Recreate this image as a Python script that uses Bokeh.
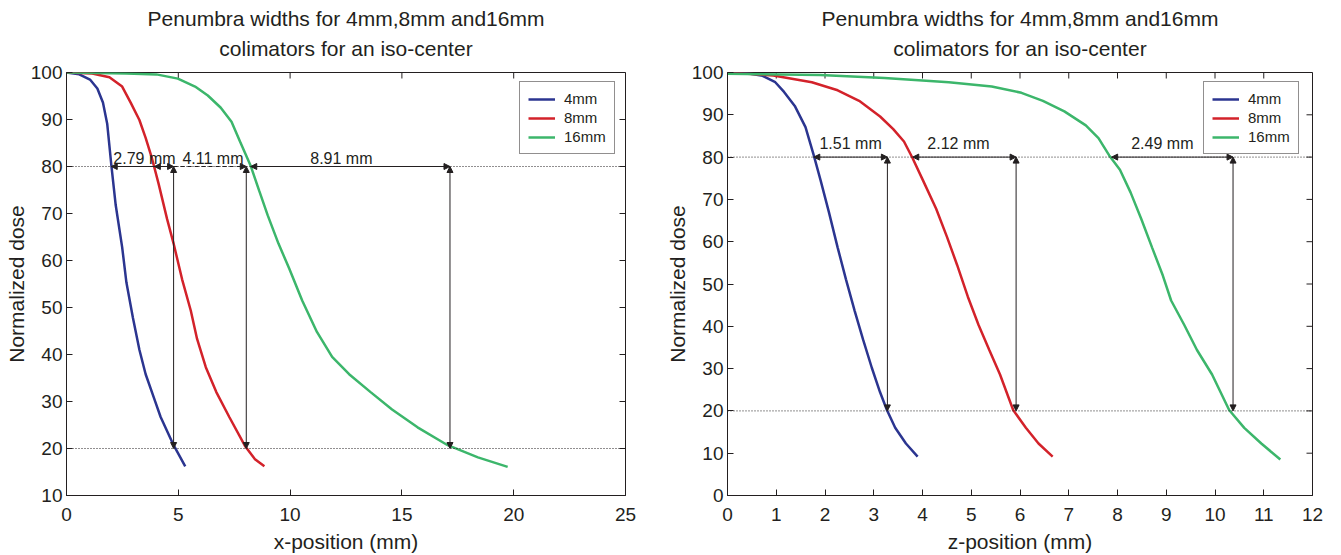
from bokeh.plotting import figure
from bokeh.layouts import row
from bokeh.models import Arrow, NormalHead, Span, Legend, LegendItem, Range1d, FixedTicker, Title
from bokeh.embed import file_html
from bokeh.resources import INLINE
from bokeh.core.properties import value

FONT = "Liberation Sans"
TITLE_LINES = ["Penumbra widths for 4mm,8mm and16mm", "colimators for an iso-center"]
SERIES = ["4mm", "8mm", "16mm"]
COLORS = ["#2b3590", "#d3222a", "#3cb66b"]
INK = "#231f20"

# ---- left panel (x-position) ----
L_blue_x = [0, 0.57, 1.05, 1.38, 1.63, 1.82, 2.01, 2.2, 2.49, 2.68, 2.97, 3.26, 3.54, 3.93, 4.21, 4.79, 5.31]
L_blue_y = [100, 99.6, 98.5, 96.6, 93.6, 89.1, 80.1, 71.8, 62.8, 55.3, 47.8, 41, 35.8, 30.5, 26.7, 20.7, 16.2]
L_red_x = [0, 1.15, 1.92, 2.49, 2.87, 3.26, 3.54, 3.83, 4.12, 4.5, 4.79, 5.17, 5.56, 5.84, 6.23, 6.7, 7.28, 8.0, 8.43, 8.85]
L_red_y = [100, 99.8, 99, 97, 93.6, 89.9, 86.1, 81.6, 76.3, 68.8, 63.6, 56, 49.3, 43.3, 37.3, 32, 26.7, 20.4, 17.7, 16.2]
L_green_x = [0, 2.68, 4.02, 4.98, 5.75, 6.32, 6.9, 7.38, 7.76, 8.24, 8.62, 9.0, 9.48, 9.96, 10.54, 11.2,
             11.88, 12.64, 13.6, 14.56, 15.7, 17.05, 18.4, 19.73]
L_green_y = [100, 99.8, 99.6, 98.7, 97, 95.1, 92.5, 89.5, 85.3, 80.1, 74.8, 69.6, 63.6, 58.3, 51.5, 44.8,
             39.5, 35.8, 32, 28.3, 24.5, 20.7, 18.1, 16.1]
L_x80 = [2.0, 3.93, 8.24]
L_width = [2.79, 4.11, 8.91]
L_labels = ["2.79 mm", "4.11 mm", "8.91 mm"]
L_xticks = [0, 5, 10, 15, 20, 25]
L_yticks = [10, 20, 30, 40, 50, 60, 70, 80, 90, 100]

# ---- right panel (z-position) ----
R_blue_x = [0, 0.41, 0.72, 0.98, 1.16, 1.38, 1.6, 1.77, 1.91, 2.08, 2.26, 2.43, 2.61, 2.78, 2.96, 3.13,
            3.27, 3.44, 3.66, 3.9]
R_blue_y = [100, 99.8, 99.2, 97.7, 95.4, 92.1, 87.1, 80.4, 74.5, 67, 58.6, 51.1, 43.6, 36.9, 30.2, 24.4,
            20.2, 16, 12.3, 9.2]
R_red_x = [0, 0.94, 1.73, 2.26, 2.7, 3.13, 3.4, 3.62, 3.79, 4.01, 4.28, 4.5, 4.71, 4.93, 5.15, 5.37, 5.59,
           5.86, 6.12, 6.38, 6.67]
R_red_y = [100, 99.3, 97.7, 95.8, 93.3, 89.6, 86.6, 83.7, 79.9, 74.5, 67.8, 61.2, 54.5, 47, 40.3, 34.4, 28.6,
           20.2, 16, 12.3, 9.2]
R_green_x = [0, 1.9, 3.22, 4.54, 5.42, 6.03, 6.47, 6.91, 7.35, 7.61, 7.83, 8.05, 8.27, 8.49, 8.71, 8.93,
             9.1, 9.37, 9.63, 9.94, 10.29, 10.6, 10.95, 11.34]
R_green_y = [99.7, 99.4, 98.7, 97.7, 96.7, 95.2, 93.3, 90.8, 87.5, 84.5, 80.4, 77, 71.6, 65.3, 58.6, 52,
             46.1, 40.3, 34.4, 28.6, 20.2, 16, 12.3, 8.5]
R_x80 = [1.77, 3.8, 7.88]
R_width = [1.51, 2.12, 2.49]
R_labels = ["1.51 mm", "2.12 mm", "2.49 mm"]
R_xticks = list(range(0, 13))
R_yticks = [0, 10, 20, 30, 40, 50, 60, 70, 80, 90, 100]

LEVELS = [80, 20]


def head():
    return NormalHead(size=6, fill_color=INK, line_color=INK, line_width=1)


def make(fw, bl, br, xr, yr, xticks, yticks, xlabel, curves, x80, widths, labels, dashed_idx,
         legend_loc, lab_off, lab_dx):
    p = figure(frame_width=fw, frame_height=423, x_range=Range1d(*xr), y_range=Range1d(*yr),
               output_backend="svg", toolbar_location=None, title=None,
               min_border_left=bl, min_border_right=br, min_border_top=72, min_border_bottom=59)
    p.grid.visible = False
    p.outline_line_color = INK
    for line, so in zip(reversed(TITLE_LINES), (26, -16)):
        t = Title(text=line, align="center", text_font=FONT, text_font_size="21px",
                  text_font_style="normal", text_color=INK, standoff=so, offset=0)
        p.add_layout(t, "above")

    for ax, ticks in ((p.xaxis[0], xticks), (p.yaxis[0], yticks)):
        ax.ticker = FixedTicker(ticks=ticks)
        ax.major_tick_in = 6
        ax.major_tick_out = 0
        ax.minor_tick_line_color = None
        ax.major_label_text_font = FONT
        ax.major_label_text_font_size = "19px"
        ax.major_label_text_color = INK
        ax.axis_label_text_font = FONT
        ax.axis_label_text_font_size = "21px"
        ax.axis_label_text_font_style = "normal"
        ax.axis_label_text_color = INK
        ax.axis_line_color = INK
        ax.major_tick_line_color = INK
    p.xaxis[0].axis_label = xlabel
    p.yaxis[0].axis_label = "Normalized dose"
    p.xaxis[0].major_label_standoff = 12
    p.xaxis[0].axis_label_standoff = 6
    p.yaxis[0].major_label_standoff = 4
    p.yaxis[0].axis_label_standoff = 0

    # inward ticks on the top and right edges of the box
    p.ray(x=xticks, y=[yr[1]] * len(xticks), length=6, length_units="screen",
          angle=-90, angle_units="deg", line_color=INK, line_width=1)
    p.ray(x=[xr[1]] * len(yticks), y=yticks, length=6, length_units="screen",
          angle=180, angle_units="deg", line_color=INK, line_width=1)

    for lv in LEVELS:
        p.add_layout(Span(location=lv, dimension="width", line_color=INK,
                          line_width=1, line_dash="1 2"))

    items = []
    for (xs, ys), name, col in zip(curves, SERIES, COLORS):
        r = p.line(xs, ys, line_color=col, line_width=2.5)
        items.append(LegendItem(label=name, renderers=[r]))

    prev_end = None
    for i, (x0, w, lab, dx) in enumerate(zip(x80, widths, labels, lab_dx)):
        x1 = x0 + w
        if i in dashed_idx and prev_end is not None:
            p.add_layout(Arrow(x_start=x0, y_start=LEVELS[0], x_end=prev_end, y_end=LEVELS[0],
                               line_width=1, line_color=INK, start=head(), end=None))
            p.add_layout(Arrow(x_start=prev_end, y_start=LEVELS[0], x_end=x1, y_end=LEVELS[0],
                               line_width=1, line_color=INK, line_dash="4 3",
                               start=None, end=head()))
            xc = (prev_end + x1) / 2
        else:
            p.add_layout(Arrow(x_start=x0, y_start=LEVELS[0], x_end=x1, y_end=LEVELS[0],
                               line_width=1, line_color=INK, start=head(), end=head()))
            xc = x0 + w / 2
        p.add_layout(Arrow(x_start=x1, y_start=LEVELS[1], x_end=x1, y_end=LEVELS[0],
                           line_width=1, line_color=INK, start=head(), end=head()))
        p.text(x=[xc], y=[LEVELS[0]], text=[lab], text_align="center",
               text_baseline="alphabetic", x_offset=dx, y_offset=-lab_off, text_font=value(FONT),
               text_font_size="16px", text_color=INK)
        prev_end = x1

    leg = Legend(items=items, location=legend_loc, label_text_font=FONT,
                 label_text_font_size="15px", label_text_color=INK,
                 border_line_color=INK, border_line_width=1,
                 glyph_width=27, glyph_height=16, label_height=16, label_standoff=9,
                 spacing=2, padding=8, margin=0, background_fill_alpha=1)
    p.add_layout(leg)
    return p


p1 = make(559, 66, 37, (0, 25), (10, 100), L_xticks, L_yticks, "x-position (mm)",
          [(L_blue_x, L_blue_y), (L_red_x, L_red_y), (L_green_x, L_green_y)],
          L_x80, L_width, L_labels, [1], (453, 341), 8, [2, 3, -9])
p2 = make(585, 53, 21, (0, 12), (0, 100), R_xticks, R_yticks, "z-position (mm)",
          [(R_blue_x, R_blue_y), (R_red_x, R_red_y), (R_green_x, R_green_y)],
          R_x80, R_width, R_labels, [], (476, 341), 14, [0, -6, -10])

layout = row(p1, p2, spacing=0)
open("out.html", "w").write(file_html(layout, INLINE))
